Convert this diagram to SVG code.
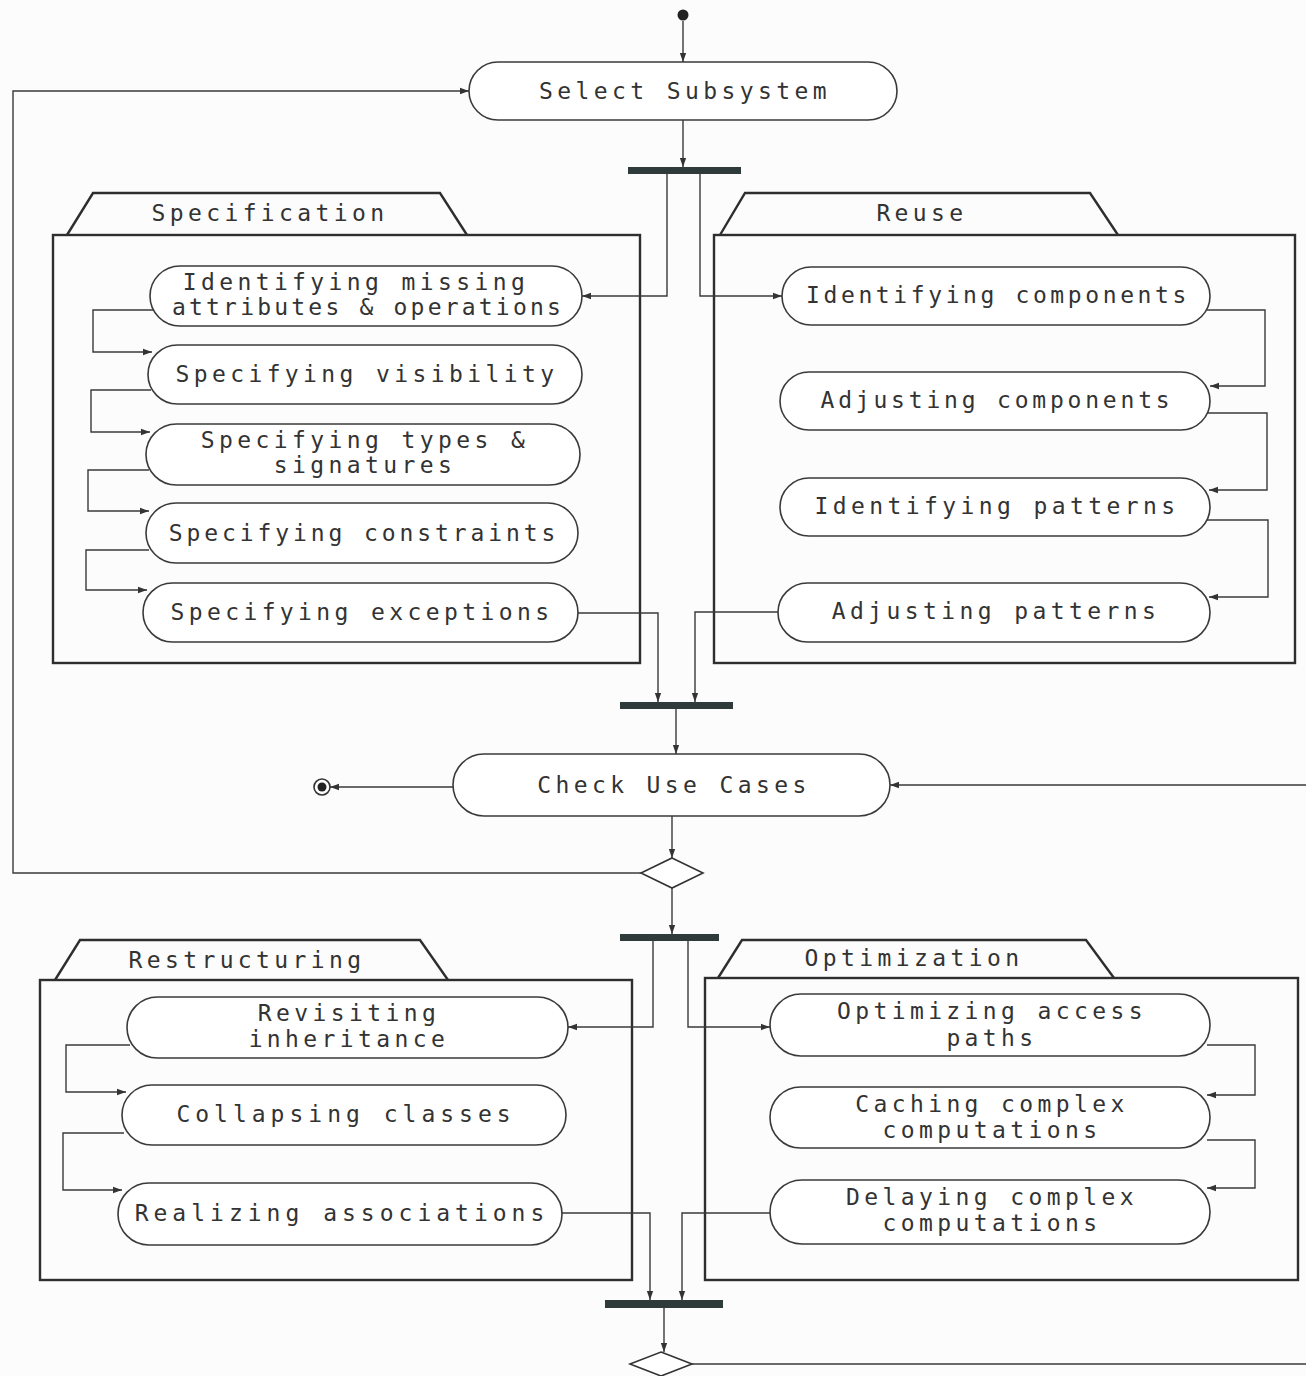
<svg xmlns="http://www.w3.org/2000/svg" width="1306" height="1376" viewBox="0 0 1306 1376">
<style>
.bg{fill:#fbfcfb}
.act{fill:#ffffff;stroke:#3a3a3a;stroke-width:1.6}
.pkg{fill:none;stroke:#2e2e2e;stroke-width:2.4}
.bar{fill:#2f3a3a}
.c{fill:none;stroke:#3a3a3a;stroke-width:1.4}
.dec{fill:#ffffff;stroke:#333;stroke-width:1.6}
text{font-family:"DejaVu Sans Mono","Liberation Mono",monospace;font-size:23px;letter-spacing:4.4px;fill:#333;text-anchor:middle}
</style>
<defs>
<marker id="ah" viewBox="0 0 10 10" refX="10" refY="5" markerWidth="9" markerHeight="9" markerUnits="userSpaceOnUse" orient="auto">
<path d="M0,1.5 L10,5 L0,8.5 z" fill="#333"/>
</marker>
</defs>
<rect class="bg" x="0" y="0" width="1306" height="1376"/>

<g id="initial"><circle cx="683" cy="15" r="5.5" fill="#222"/></g>

<g id="select-subsystem"><rect class="act" x="469" y="62" width="428" height="58" rx="29"/><text x="685" y="99">Select Subsystem</text></g>
<g id="fork1"><rect class="bar" x="628" y="167" width="113" height="7"/></g>

<g id="pkg-specification"><path class="pkg" d="M67,235 L93,193 L440,193 L467,235"/><rect class="pkg" x="53" y="235" width="587" height="428"/><text x="270" y="221">Specification</text></g>
<g id="pkg-reuse"><path class="pkg" d="M720,235 L745,193 L1090,193 L1118,235"/><rect class="pkg" x="714" y="235" width="581" height="428"/><text x="922" y="221">Reuse</text></g>

<g id="spec1"><rect class="act" x="150" y="266" width="432" height="60" rx="30"/><text x="356" y="290">Identifying missing</text><text x="368" y="315" style="letter-spacing:3.2px">attributes &amp; operations</text></g>
<g id="spec2"><rect class="act" x="148" y="345" width="434" height="59" rx="29.5"/><text x="367" y="382">Specifying visibility</text></g>
<g id="spec3"><rect class="act" x="146" y="424" width="434" height="61" rx="30.5"/><text x="365" y="448">Specifying types &amp;</text><text x="365" y="473">signatures</text></g>
<g id="spec4"><rect class="act" x="146" y="503" width="432" height="60" rx="30"/><text x="364" y="541" style="letter-spacing:3.9px">Specifying constraints</text></g>
<g id="spec5"><rect class="act" x="143" y="583" width="435" height="59" rx="29.5"/><text x="362" y="620">Specifying exceptions</text></g>

<g id="reuse1"><rect class="act" x="782" y="267" width="428" height="58" rx="29"/><text x="998" y="303" style="letter-spacing:3.6px">Identifying components</text></g>
<g id="reuse2"><rect class="act" x="780" y="372" width="430" height="58" rx="29"/><text x="997" y="408" style="letter-spacing:3.8px">Adjusting components</text></g>
<g id="reuse3"><rect class="act" x="780" y="478" width="430" height="58" rx="29"/><text x="997" y="514">Identifying patterns</text></g>
<g id="reuse4"><rect class="act" x="778" y="583" width="432" height="59" rx="29.5"/><text x="996" y="619">Adjusting patterns</text></g>

<g id="join1"><rect class="bar" x="620" y="702" width="113" height="7"/></g>
<g id="check-use-cases"><rect class="act" x="453" y="754" width="437" height="62" rx="31"/><text x="674" y="793">Check Use Cases</text></g>
<g id="final"><circle cx="322" cy="787" r="8" fill="#fff" stroke="#333" stroke-width="1.6"/><circle cx="322" cy="787" r="4.5" fill="#222"/></g>
<g id="decision1"><path class="dec" d="M672,858 L703,873 L672,888 L641,873 z"/></g>
<g id="fork2"><rect class="bar" x="620" y="934" width="99" height="7"/></g>

<g id="pkg-restructuring"><path class="pkg" d="M55,980 L80,940 L420,940 L448,980"/><rect class="pkg" x="40" y="980" width="592" height="300"/><text x="247" y="968">Restructuring</text></g>
<g id="pkg-optimization"><path class="pkg" d="M718,978 L742,940 L1086,940 L1114,978"/><rect class="pkg" x="705" y="978" width="593" height="302"/><text x="914" y="966">Optimization</text></g>

<g id="restr1"><rect class="act" x="127" y="997" width="441" height="61" rx="30.5"/><text x="349" y="1021">Revisiting</text><text x="349" y="1047">inheritance</text></g>
<g id="restr2"><rect class="act" x="122" y="1085" width="444" height="60" rx="30"/><text x="346" y="1122" style="letter-spacing:5px">Collapsing classes</text></g>
<g id="restr3"><rect class="act" x="118" y="1183" width="444" height="62" rx="31"/><text x="342" y="1221" style="letter-spacing:5px">Realizing associations</text></g>

<g id="opt1"><rect class="act" x="770" y="994" width="440" height="62" rx="31"/><text x="992" y="1019">Optimizing access</text><text x="992" y="1046">paths</text></g>
<g id="opt2"><rect class="act" x="770" y="1087" width="440" height="61" rx="30.5"/><text x="992" y="1112">Caching complex</text><text x="992" y="1138">computations</text></g>
<g id="opt3"><rect class="act" x="770" y="1180" width="440" height="64" rx="32"/><text x="992" y="1205">Delaying complex</text><text x="992" y="1231">computations</text></g>

<g id="join2"><rect class="bar" x="605" y="1300" width="118" height="8"/></g>
<g id="decision2"><path class="dec" d="M661,1352 L692,1364 L661,1376 L630,1364 z"/></g>

<g id="connectors">
<path class="c" d="M683,21 L683,62" marker-end="url(#ah)"/>
<path class="c" d="M683,120 L683,167" marker-end="url(#ah)"/>
<path class="c" d="M667,174 L667,296 L582,296" marker-end="url(#ah)"/>
<path class="c" d="M700,174 L700,296 L782,296" marker-end="url(#ah)"/>
<path class="c" d="M153,310 L93,310 L93,352 L152,352" marker-end="url(#ah)"/>
<path class="c" d="M151,390 L91,390 L91,432 L150,432" marker-end="url(#ah)"/>
<path class="c" d="M149,470 L88,470 L88,511 L149,511" marker-end="url(#ah)"/>
<path class="c" d="M149,550 L86,550 L86,590 L147,590" marker-end="url(#ah)"/>
<path class="c" d="M1207,310 L1265,310 L1265,386 L1210,386" marker-end="url(#ah)"/>
<path class="c" d="M1207,413 L1267,413 L1267,490 L1209,490" marker-end="url(#ah)"/>
<path class="c" d="M1207,520 L1268,520 L1268,597 L1209,597" marker-end="url(#ah)"/>
<path class="c" d="M578,613 L658,613 L658,702" marker-end="url(#ah)"/>
<path class="c" d="M778,612 L695,612 L695,702" marker-end="url(#ah)"/>
<path class="c" d="M676,709 L676,754" marker-end="url(#ah)"/>
<path class="c" d="M453,787 L330,787" marker-end="url(#ah)"/>
<path class="c" d="M1306,785 L890,785" marker-end="url(#ah)"/>
<path class="c" d="M672,816 L672,858" marker-end="url(#ah)"/>
<path class="c" d="M641,873 L13,873 L13,91 L469,91" marker-end="url(#ah)"/>
<path class="c" d="M672,888 L672,934" marker-end="url(#ah)"/>
<path class="c" d="M653,941 L653,1027 L568,1027" marker-end="url(#ah)"/>
<path class="c" d="M688,941 L688,1027 L770,1027" marker-end="url(#ah)"/>
<path class="c" d="M130,1045 L66,1045 L66,1092 L126,1092" marker-end="url(#ah)"/>
<path class="c" d="M124,1133 L63,1133 L63,1190 L122,1190" marker-end="url(#ah)"/>
<path class="c" d="M1207,1045 L1255,1045 L1255,1095 L1207,1095" marker-end="url(#ah)"/>
<path class="c" d="M1207,1140 L1255,1140 L1255,1188 L1207,1188" marker-end="url(#ah)"/>
<path class="c" d="M562,1213 L650,1213 L650,1300" marker-end="url(#ah)"/>
<path class="c" d="M770,1213 L682,1213 L682,1300" marker-end="url(#ah)"/>
<path class="c" d="M664,1308 L664,1352" marker-end="url(#ah)"/>
<path class="c" d="M692,1364 L1306,1364"/>
</g>
</svg>
